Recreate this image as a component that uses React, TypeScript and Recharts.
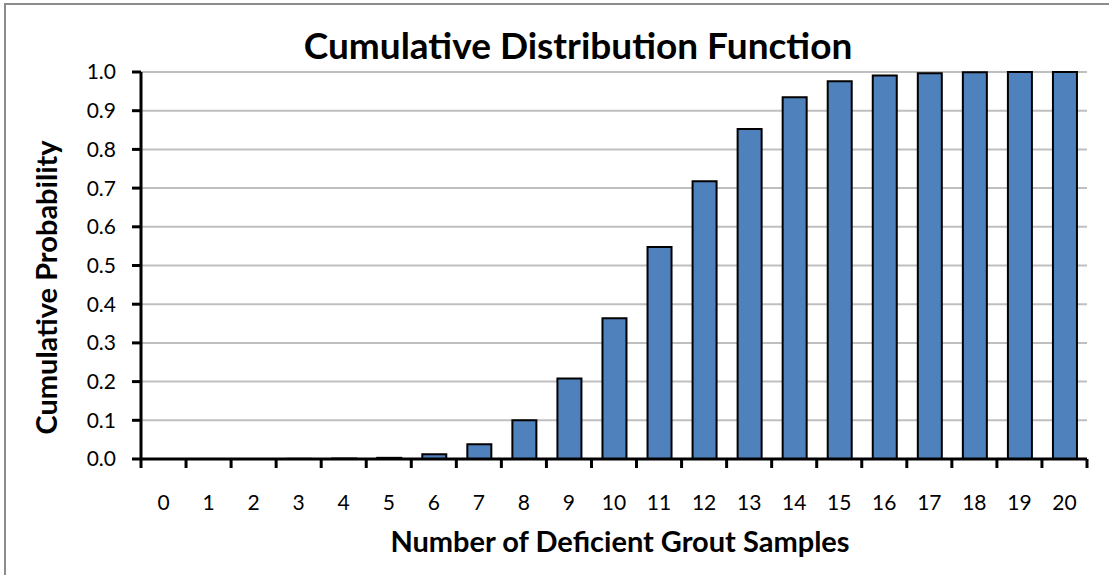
import * as React from 'react';
import { BarChart, Bar, XAxis, YAxis, CartesianGrid } from 'recharts';

const samples: string[] = [
  '0', '1', '2', '3', '4', '5', '6', '7', '8', '9', '10',
  '11', '12', '13', '14', '15', '16', '17', '18', '19', '20',
];
const cumulative: number[] = [
  0, 0.0001, 0.0002, 0.0005, 0.0012, 0.003, 0.012, 0.038, 0.1, 0.208, 0.364,
  0.548, 0.718, 0.853, 0.935, 0.976, 0.991, 0.997, 0.9995, 1.0, 1.0,
];
const yTicks: number[] = [0, 0.1, 0.2, 0.3, 0.4, 0.5, 0.6, 0.7, 0.8, 0.9, 1.0];

const FONT = 'Lato, "Open Sans", sans-serif';
const BAR_FILL = '#4f81bd';

const data = samples.map((name, i) => ({ name, p: cumulative[i] }));

// category ticks: label centred, tick mark on the boundary between bars
const XTick = (props: any) => {
  const { x, y, payload, index } = props;
  const half = payload?.offset ?? 22.5;
  return (
    <g>
      <line x1={x - half} y1={y} x2={x - half} y2={y + 9} stroke="#000" strokeWidth={3} />
      {index === samples.length - 1 && (
        <line x1={x + half} y1={y} x2={x + half} y2={y + 9} stroke="#000" strokeWidth={3} />
      )}
      <text x={x} y={y + 51} textAnchor="middle" fill="#000" fontSize={21} fontFamily={FONT}>
        {payload.value}
      </text>
    </g>
  );
};

const XTitle = (props: any) => {
  const { x, y, width } = props.viewBox;
  return (
    <text x={x + width / 2 + 6} y={y + 93} textAnchor="middle" fontSize={29} fontWeight="bold" fontFamily={FONT} fill="#000">
      Number of Deficient Grout Samples
    </text>
  );
};

const YTitle = (props: any) => {
  const { x, y, height } = props.viewBox;
  const cx = x + 57;
  const cy = y + height / 2 + 22;
  return (
    <text x={cx} y={cy} transform={`rotate(-90, ${cx}, ${cy})`} textAnchor="middle" fontSize={29} fontWeight="bold" fontFamily={FONT} fill="#000">
      Cumulative Probability
    </text>
  );
};

export default function App(): React.JSX.Element {
  return (
    <div style={{ position: 'absolute', left: 0, top: 0, width: 1109, height: 575, overflow: 'hidden', background: '#fff' }}>
      <div style={{ position: 'absolute', left: 4, top: 3, width: 1300, height: 800, border: '2px solid #8c8c8c' }} />
      <div style={{ position: 'absolute', left: 0, top: 23, width: 1156, textAlign: 'center', fontFamily: FONT, fontWeight: 'bold', fontSize: 37, lineHeight: '44px', color: '#000' }}>
        Cumulative Distribution Function
      </div>
      <div style={{ position: 'absolute', left: 0, top: 0 }}>
        <BarChart width={1109} height={575} data={data} margin={{ top: 72, right: 22, bottom: 76, left: 0 }} barSize={24}>
          <CartesianGrid vertical={false} stroke="#bfbfbf" strokeWidth={2} />
          <XAxis
            dataKey="name"
            height={40}
            interval={0}
            tickSize={0}
            tickMargin={0}
            tickLine={false}
            axisLine={{ stroke: '#000', strokeWidth: 3 }}
            tick={<XTick />}
            label={<XTitle />}
          />
          <YAxis
            width={141}
            domain={[0, 1]}
            ticks={yTicks}
            interval={0}
            tickFormatter={(v: number) => v.toFixed(1)}
            tickSize={9}
            tickMargin={16}
            tickLine={{ stroke: '#000', strokeWidth: 3 }}
            axisLine={{ stroke: '#000', strokeWidth: 3 }}
            tick={{ fill: '#000', fontSize: 21, fontFamily: FONT }}
            label={<YTitle />}
          />
          <Bar dataKey="p" fill={BAR_FILL} stroke="#000" strokeWidth={2} isAnimationActive={false} />
        </BarChart>
      </div>
    </div>
  );
}
